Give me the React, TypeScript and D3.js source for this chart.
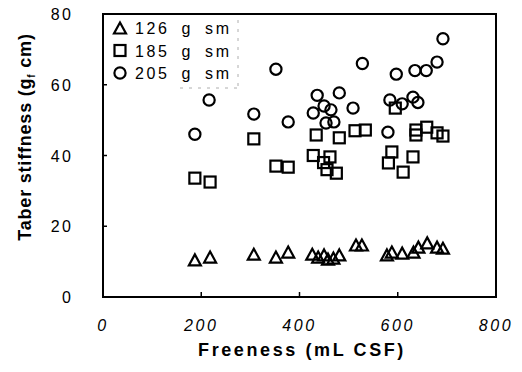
import React from "react";
import * as d3 from "d3";

const triX = [187, 218, 307, 352, 377, 426, 438, 450, 458, 469, 481, 515, 527, 578, 588, 609, 632, 642, 660, 680, 692];
const triY = [10.5, 11.3, 12.1, 11.3, 12.7, 12.1, 11.3, 11.9, 10.7, 11.0, 11.9, 14.7, 14.7, 11.9, 12.7, 12.4, 12.7, 14.1, 15.3, 14.1, 13.8];

const sqX = [187, 218, 307, 352, 377, 428, 434, 449, 456, 462, 475, 481, 513, 534, 581, 588, 595, 611, 631, 637, 637, 659, 680, 692];
const sqY = [33.6, 32.5, 44.7, 37.0, 36.7, 40.0, 45.8, 38.0, 36.0, 39.6, 35.0, 45.0, 47.0, 47.2, 37.9, 41.0, 53.4, 35.3, 39.6, 45.8, 47.2, 48.0, 46.4, 45.5];

const ciX = [187, 216, 307, 352, 377, 428, 436, 450, 454, 464, 470, 481, 509, 528, 580, 584, 597, 609, 631, 635, 641, 658, 680, 692];
const ciY = [46.0, 55.7, 51.7, 64.4, 49.5, 52.0, 57.0, 54.0, 49.2, 52.9, 49.5, 57.7, 53.4, 66.0, 46.6, 55.7, 63.0, 54.6, 56.5, 64.0, 55.0, 64.0, 66.4, 73.0];

const xTicks = [0, 200, 400, 600, 800];
const yTicks = [0, 20, 40, 60, 80];
const legendLabels = ["126 g sm", "185 g sm", "205 g sm"];

const FONT = "'Liberation Sans', Arial, sans-serif";

export default function App() {
  const W = 522, H = 372;
  const L = 103, R = 496, T = 14, B = 297;
  const x = d3.scaleLinear().domain([0, 800]).range([L, R]);
  const y = d3.scaleLinear().domain([0, 80]).range([B, T]);

  const tri = (cx: number, cy: number) => {
    const w = 6, h = 5.5;
    return `M${cx},${cy - h}L${cx + w},${cy + h}L${cx - w},${cy + h}Z`;
  };
  const sq = 11;
  const mk = { fill: "none", stroke: "#000", strokeWidth: 2.2 };

  return (
    <svg width={W} height={H} style={{ position: "absolute", left: 0, top: 0, background: "#fff" }}>
      <rect x={0} y={0} width={W} height={H} fill="#fff" />
      {/* legend faint border */}
      <path d={`M180,88L240,88M238,20L238,88`} stroke="#999" strokeWidth={0.8} strokeDasharray="3,6" fill="none" />
      {/* frame */}
      <rect x={L} y={T} width={R - L} height={B - T} fill="none" stroke="#000" strokeWidth={2} />
      {/* inward ticks */}
      {xTicks.slice(1, -1).map((t) => (
        <line key={"xt" + t} x1={x(t)} x2={x(t)} y1={B} y2={B - 5} stroke="#000" strokeWidth={1.5} />
      ))}
      {yTicks.slice(1, -1).map((t) => (
        <line key={"yt" + t} x1={L} x2={L + 4} y1={y(t)} y2={y(t)} stroke="#000" strokeWidth={1.5} />
      ))}
      {/* tick labels */}
      {xTicks.map((t) => (
        <text key={"xl" + t} x={x(t)} y={331} textAnchor="middle" fontFamily={FONT} fontStyle="italic" fontSize={16} letterSpacing={2.6} fill="#000">
          {t}
        </text>
      ))}
      {yTicks.map((t) => (
        <text key={"yl" + t} x={73} y={y(t) + 6} textAnchor="end" fontFamily={FONT} fontSize={16} letterSpacing={2.2} fill="#000">
          {t}
        </text>
      ))}
      {/* axis titles */}
      <text x={302} y={356} textAnchor="middle" fontFamily={FONT} fontWeight="bold" fontSize={18} letterSpacing={2.6} fill="#000">
        Freeness (mL CSF)
      </text>
      <text transform={`translate(31,137) rotate(-90)`} textAnchor="middle" fontFamily={FONT} fontWeight="bold" fontSize={18} letterSpacing={0.8} fill="#000">
        Taber stiffness (g<tspan fontSize={10} dy={4}>f</tspan><tspan dy={-4}> cm)</tspan>
      </text>
      {/* data */}
      {triX.map((v, i) => (
        <path key={"t" + i} d={tri(x(v), y(triY[i]))} {...mk} />
      ))}
      {sqX.map((v, i) => (
        <rect key={"s" + i} x={x(v) - sq / 2} y={y(sqY[i]) - sq / 2} width={sq} height={sq} {...mk} />
      ))}
      {ciX.map((v, i) => (
        <circle key={"c" + i} cx={x(v)} cy={y(ciY[i])} r={5.6} {...mk} />
      ))}
      {/* legend */}
      {legendLabels.map((lab, i) => {
        const cy = 28 + i * 22.5;
        const cx = 120;
        return (
          <g key={"lg" + i}>
            {i === 0 && <path d={tri(cx, cy)} {...mk} />}
            {i === 1 && <rect x={cx - 5.5} y={cy - 5.5} width={11} height={11} {...mk} />}
            {i === 2 && <circle cx={cx} cy={cy} r={5.6} {...mk} />}
            <text x={135} y={cy + 6} fontFamily={FONT} fontSize={16} letterSpacing={2.6} wordSpacing={5} fill="#000">
              {lab}
            </text>
          </g>
        );
      })}
    </svg>
  );
}
